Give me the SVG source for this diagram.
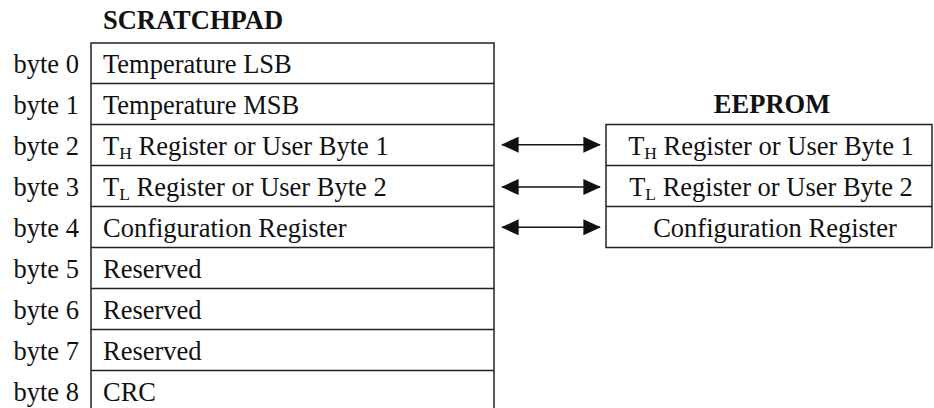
<svg xmlns="http://www.w3.org/2000/svg" width="934" height="408" viewBox="0 0 934 408">
<style>
text{font-family:"Liberation Serif","Times New Roman",serif;font-size:26.5px;fill:#111}
.t{font-weight:bold;font-size:26.5px}
.b{text-anchor:end}
.c{text-anchor:middle}
.sub{font-size:17.5px}
.box{fill:#fff;stroke:#222;stroke-width:1.5}
.ln{stroke:#222;stroke-width:1.5;fill:none}
.ar{stroke:#111;stroke-width:1.6;fill:none;marker-start:url(#ah);marker-end:url(#ah)}
</style>
<defs>
<marker id="ah" viewBox="0 0 10 10" refX="9.5" refY="5" markerWidth="17.5" markerHeight="16" markerUnits="userSpaceOnUse" orient="auto-start-reverse" preserveAspectRatio="none">
<path d="M0,0 L10,5 L0,10 Z" fill="#111"/>
</marker>
</defs>
<text class="t" x="193" y="29" text-anchor="middle">SCRATCHPAD</text>
<text class="t" x="772" y="113" text-anchor="middle">EEPROM</text>
<g id="scratchpad">
<rect class="box" x="91" y="43" width="403" height="370"/>
<line class="ln" x1="91" y1="83.5" x2="494" y2="83.5"/>
<line class="ln" x1="91" y1="124.5" x2="494" y2="124.5"/>
<line class="ln" x1="91" y1="165.5" x2="494" y2="165.5"/>
<line class="ln" x1="91" y1="206.5" x2="494" y2="206.5"/>
<line class="ln" x1="91" y1="247.5" x2="494" y2="247.5"/>
<line class="ln" x1="91" y1="288.5" x2="494" y2="288.5"/>
<line class="ln" x1="91" y1="329.5" x2="494" y2="329.5"/>
<line class="ln" x1="91" y1="370.5" x2="494" y2="370.5"/>
<g id="byte0"><text class="b" x="79" y="73">byte 0</text><text x="103" y="73">Temperature LSB</text></g>
<g id="byte1"><text class="b" x="79" y="114">byte 1</text><text x="103" y="114">Temperature MSB</text></g>
<g id="byte2"><text class="b" x="79" y="155">byte 2</text><text x="103" y="155">T<tspan class="sub" dy="4">H</tspan><tspan dy="-4"> Register or User Byte 1</tspan></text></g>
<g id="byte3"><text class="b" x="79" y="196">byte 3</text><text x="103" y="196">T<tspan class="sub" dy="4">L</tspan><tspan dy="-4"> Register or User Byte 2</tspan></text></g>
<g id="byte4"><text class="b" x="79" y="237">byte 4</text><text x="103" y="237">Configuration Register</text></g>
<g id="byte5"><text class="b" x="79" y="278">byte 5</text><text x="103" y="278">Reserved</text></g>
<g id="byte6"><text class="b" x="79" y="319">byte 6</text><text x="103" y="319">Reserved</text></g>
<g id="byte7"><text class="b" x="79" y="360">byte 7</text><text x="103" y="360">Reserved</text></g>
<g id="byte8"><text class="b" x="79" y="401">byte 8</text><text x="103" y="401">CRC</text></g>
</g>
<g id="eeprom">
<rect class="box" x="606" y="124.5" width="326" height="123"/>
<line class="ln" x1="606" y1="165.5" x2="932" y2="165.5"/>
<line class="ln" x1="606" y1="206.5" x2="932" y2="206.5"/>
<g id="ee_th"><text class="c" x="771" y="155">T<tspan class="sub" dy="4">H</tspan><tspan dy="-4"> Register or User Byte 1</tspan></text></g>
<g id="ee_tl"><text class="c" x="771" y="196">T<tspan class="sub" dy="4">L</tspan><tspan dy="-4"> Register or User Byte 2</tspan></text></g>
<g id="ee_cfg"><text class="c" x="775" y="237">Configuration Register</text></g>
</g>
<g id="connectors">
<line class="ar" x1="502" y1="144.7" x2="600" y2="144.7"/>
<line class="ar" x1="502" y1="187" x2="600" y2="187"/>
<line class="ar" x1="502" y1="227.3" x2="600" y2="227.3"/>
</g>
</svg>
